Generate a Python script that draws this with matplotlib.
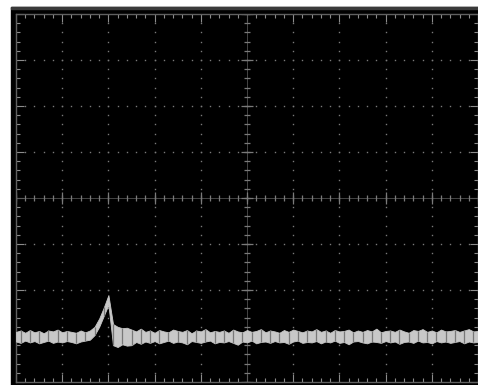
import numpy as np
import matplotlib
matplotlib.use("Agg")
import matplotlib.pyplot as plt
from matplotlib.patches import Rectangle

# screen is 10 x 8 divisions, trace sampled every 0.1 div
n_div_x = 10
n_div_y = 8
t_div = np.linspace(0, 10, 101)

# peak-detect envelope of the trace, in divisions
env_top = [
    -2.91, -2.88, -2.93, -2.87, -2.92, -2.89, -2.94, -2.88, -2.90, -2.86,
    -2.92, -2.89, -2.91, -2.93, -2.88, -2.92, -2.88, -2.80, -2.62, -2.38,
    -2.11, -2.74, -2.80, -2.83, -2.82,
    -2.86, -2.90, -2.84, -2.91, -2.88, -2.93, -2.87, -2.90, -2.92, -2.86,
    -2.89, -2.91, -2.87, -2.94, -2.88, -2.90, -2.85, -2.92, -2.89, -2.91,
    -2.88, -2.93, -2.86, -2.90, -2.92, -2.87, -2.91, -2.89, -2.85, -2.92,
    -2.88, -2.90, -2.93, -2.87, -2.91, -2.86, -2.89, -2.92, -2.88, -2.90,
    -2.85, -2.91, -2.88, -2.93, -2.87, -2.90, -2.89, -2.86, -2.92, -2.88,
    -2.91, -2.87, -2.90, -2.84, -2.92, -2.89, -2.88, -2.91, -2.86, -2.90,
    -2.93, -2.87, -2.89, -2.85, -2.91, -2.88, -2.92, -2.86, -2.90, -2.89,
    -2.87, -2.91, -2.88, -2.85, -2.90, -2.89,
]
env_bot = [
    -3.12, -3.15, -3.10, -3.14, -3.11, -3.16, -3.13, -3.10, -3.15, -3.12,
    -3.14, -3.11, -3.13, -3.16, -3.12, -3.10, -3.08, -2.98, -2.80, -2.56,
    -2.32, -3.20, -3.24, -3.18, -3.21,
    -3.20, -3.13, -3.17, -3.12, -3.15, -3.11, -3.16, -3.13, -3.10, -3.15,
    -3.12, -3.14, -3.18, -3.11, -3.13, -3.15, -3.12, -3.10, -3.16, -3.13,
    -3.14, -3.11, -3.15, -3.19, -3.12, -3.14, -3.10, -3.16, -3.13, -3.12,
    -3.15, -3.11, -3.14, -3.13, -3.17, -3.12, -3.10, -3.15, -3.13, -3.14,
    -3.11, -3.16, -3.12, -3.14, -3.10, -3.15, -3.13, -3.18, -3.12, -3.11,
    -3.14, -3.16, -3.12, -3.13, -3.15, -3.11, -3.14, -3.12, -3.17, -3.13,
    -3.12, -3.15, -3.10, -3.14, -3.13, -3.16, -3.11, -3.14, -3.12, -3.15,
    -3.13, -3.11, -3.16, -3.12, -3.14, -3.13,
]

GRID = "#7a7a7a"

fig = plt.figure(figsize=(4.78, 3.85), dpi=100, facecolor="white")
# black screen area plus the dim strip along its top
fig.patches.append(Rectangle((11 / 478, 0), 467 / 478, 378 / 385,
                             transform=fig.transFigure, color="black", zorder=-2))
fig.patches.append(Rectangle((11 / 478, 376 / 385), 467 / 478, 2 / 385,
                             transform=fig.transFigure, color="#3a3a3a", zorder=-1))

ax = fig.add_axes([16 / 478, 3 / 385, 462 / 478, 368 / 385])
ax.set_zorder(2)
ax.set_facecolor("black")
ax.set_xlim(0, n_div_x)
ax.set_ylim(-n_div_y / 2, n_div_y / 2)

# dotted graticule
sub = np.arange(0, n_div_x + 0.01, 0.2)
sub_y = np.arange(-4, 4.01, 0.2)
for gx in range(1, n_div_x):
    if gx == 5:
        continue
    ax.plot(np.full(len(sub_y), gx), sub_y, ls="none", marker="s", ms=1.0,
            color=GRID, mew=0)
for gy in range(-3, 4):
    if gy == 0:
        continue
    ax.plot(sub, np.full(len(sub), gy), ls="none", marker="s", ms=1.0,
            color=GRID, mew=0)

# centre cross with sub-division marks
ax.axvline(5, color="#505050", lw=0.6)
ax.axhline(0, color="#505050", lw=0.6)
ax.plot(np.full(len(sub_y), 5), sub_y, ls="none", marker="_", ms=5, mew=0.9, color=GRID)
ax.plot(sub, np.zeros(len(sub)), ls="none", marker="|", ms=5, mew=0.9, color=GRID)
ax.plot(np.full(9, 5), np.arange(-4, 5), ls="none", marker="_", ms=9, mew=0.9, color=GRID)
ax.plot(np.arange(0, 11), np.zeros(11), ls="none", marker="|", ms=9, mew=0.9, color=GRID)

# frame ticks
ax.xaxis.set_major_locator(plt.MultipleLocator(1))
ax.xaxis.set_minor_locator(plt.MultipleLocator(0.2))
ax.yaxis.set_major_locator(plt.MultipleLocator(1))
ax.yaxis.set_minor_locator(plt.MultipleLocator(0.2))
ax.tick_params(which="both", direction="in", top=True, right=True,
               labelbottom=False, labelleft=False, color="#8c8c8c", width=0.8)
ax.tick_params(which="major", length=6)
ax.tick_params(which="minor", length=3)
for sp in ax.spines.values():
    sp.set_color("#606060")
    sp.set_linewidth(1.0)

# trace
ax.fill_between(t_div, env_bot, env_top, color="#c8c8c8", lw=0.6,
                edgecolor="#c8c8c8", zorder=5)
idx = np.arange(1, len(t_div), 2)
ax.vlines(t_div[idx], np.array(env_bot)[idx], np.array(env_top)[idx],
          color="#787878", lw=0.9, zorder=6)

fig.savefig("out.png", dpi=100, facecolor="white")
